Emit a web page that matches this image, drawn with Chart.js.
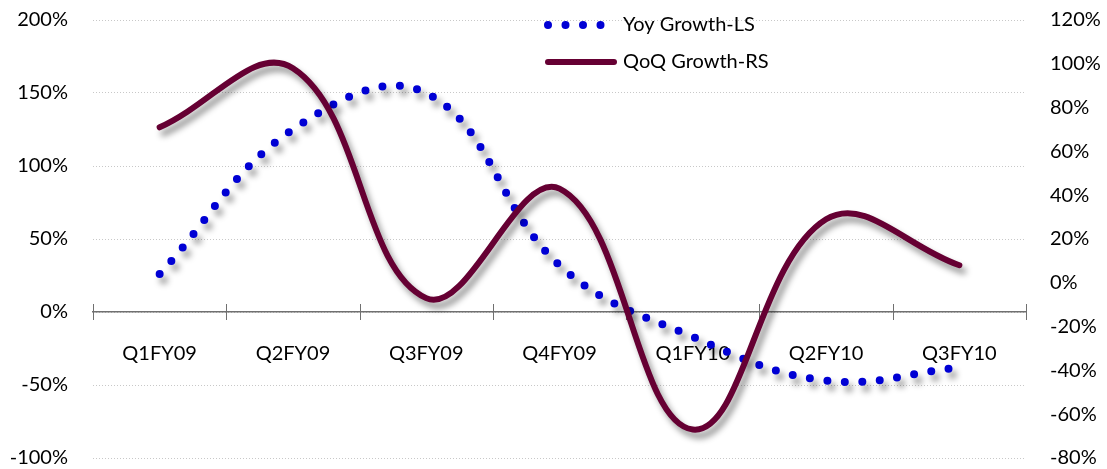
<!DOCTYPE html>
<html>
<head>
<meta charset="utf-8">
<script src="https://cdn.jsdelivr.net/npm/chart.js@4.4.1/dist/chart.umd.min.js"></script>
<style>
    html, body { margin: 0; padding: 0; background: #fff; }
    #wrap { width: 1107px; height: 469px; }
</style>
</head>
<body>
<div id="wrap"><canvas id="growthChart" width="1107" height="469"></canvas></div>
<script>
// Quarterly growth, YoY on the left scale, QoQ on the right scale (%)
const quarters   = ["Q1FY09", "Q2FY09", "Q3FY09", "Q4FY09", "Q1FY10", "Q2FY10", "Q3FY10"];
const yoyGrowth  = [26, 125, 150, 32, -17, -47, -38];
const qoqGrowth  = [71, 98, -7, 43, -67, 29, 8];
const leftTicks  = [-100, -50, 0, 50, 100, 150, 200];
const rightTicks = [-80, -60, -40, -20, 0, 20, 40, 60, 80, 100, 120];

const FONT = { family: "Lato", size: 20 };
const BLUE   = "#0000d4";
const MAROON = "#660033";

// soft drop shadow under each series
const lineShadow = {
    id: "lineShadow",
    beforeDatasetDraw(chart) {
        const ctx = chart.ctx;
        ctx.save();
        ctx.shadowColor   = "rgba(0,0,0,0.42)";
        ctx.shadowBlur    = 6;
        ctx.shadowOffsetX = 4;
        ctx.shadowOffsetY = 6;
    },
    afterDatasetDraw(chart) {
        chart.ctx.restore();
    }
};

// tick marks crossing the category axis at the zero line
const crossTicks = {
    id: "crossTicks",
    beforeDatasetsDraw(chart) {
        const x = chart.scales.x;
        const y0 = chart.scales.y.getPixelForValue(0);
        const step = x.width / quarters.length;
        const ctx = chart.ctx;
        ctx.save();
        ctx.strokeStyle = "#707070";
        ctx.lineWidth = 1;
        for (let i = 0; i <= quarters.length; i++) {
            const px = Math.round(x.left + i * step) + 0.5;
            ctx.beginPath();
            ctx.moveTo(px, y0 - 8);
            ctx.lineTo(px, y0 + 8);
            ctx.stroke();
        }
        ctx.restore();
    }
};

// two-row legend sitting inside the plot
const innerLegend = {
    id: "innerLegend",
    afterDraw(chart) {
        const ctx = chart.ctx;
        const sx = 548, ex = 608, tx = 623;
        const rows = [{ y: 25, ds: chart.data.datasets[0] }, { y: 62, ds: chart.data.datasets[1] }];
        ctx.save();
        rows.forEach(r => {
            ctx.beginPath();
            ctx.strokeStyle = r.ds.borderColor;
            ctx.lineWidth = r.ds.borderWidth;
            ctx.lineCap = "round";
            ctx.setLineDash(r.ds.borderDash || []);
            ctx.moveTo(sx, r.y);
            ctx.lineTo(r.ds.borderDash ? ex : 614, r.y);
            ctx.stroke();
            ctx.setLineDash([]);
            ctx.fillStyle = "#000";
            ctx.font = `${FONT.size}px ${FONT.family}`;
            ctx.textAlign = "left";
            ctx.textBaseline = "middle";
            ctx.fillText(r.ds.label, tx, r.y);
        });
        ctx.restore();
    }
};

// fixed gutters so the plot spans 93..1026 x 20..458
function fixLeft(s)  { s.width = 93; s.paddingTop = 0; s.paddingBottom = 0; }
function fixRight(s) { s.width = 81; s.paddingTop = 0; s.paddingBottom = 0; }

const ctx = document.getElementById("growthChart").getContext("2d");
new Chart(ctx, {
    type: "line",
    data: {
        labels: quarters,
        datasets: [
            {
                label: "Yoy Growth-LS",
                data: yoyGrowth,
                yAxisID: "y",
                borderColor: BLUE,
                borderWidth: 8,
                borderDash: [0, 17.5],
                borderCapStyle: "round",
                pointRadius: 0,
                tension: 0.4,
                fill: false,
                order: 1
            },
            {
                label: "QoQ Growth-RS",
                data: qoqGrowth,
                yAxisID: "y1",
                borderColor: MAROON,
                borderWidth: 6,
                borderCapStyle: "round",
                pointRadius: 0,
                tension: 0.4,
                fill: false,
                order: 0
            }
        ]
    },
    options: {
        responsive: false,
        animation: false,
        layout: { padding: { top: 20, bottom: 11, left: 0, right: 0 } },
        plugins: {
            legend: { display: false },
            tooltip: { enabled: false }
        },
        scales: {
            x: {
                position: { y: 0 },
                offset: true,
                grid: { display: false, drawTicks: false },
                border: { display: true, color: "#707070", width: 1.5 },
                ticks: { color: "#000", font: FONT, padding: 30, maxRotation: 0 }
            },
            y: {
                position: "left",
                min: leftTicks[0],
                max: leftTicks[leftTicks.length - 1],
                afterBuildTicks: s => { s.ticks = leftTicks.map(v => ({ value: v })); },
                afterFit: fixLeft,
                grid: {
                    color: "#c8c8c8",
                    lineWidth: 1,
                    drawTicks: false
                },
                border: { display: false, dash: [1, 2] },
                ticks: { color: "#000", font: FONT, padding: 25, callback: v => v + "%" }
            },
            y1: {
                position: "right",
                min: rightTicks[0],
                max: rightTicks[rightTicks.length - 1],
                afterBuildTicks: s => { s.ticks = rightTicks.map(v => ({ value: v })); },
                afterFit: fixRight,
                grid: { display: false, drawTicks: false },
                border: { display: false },
                ticks: { color: "#000", font: FONT, padding: 24, callback: v => v + "%" }
            }
        }
    },
    plugins: [lineShadow, crossTicks, innerLegend]
});
</script>
</body>
</html>
